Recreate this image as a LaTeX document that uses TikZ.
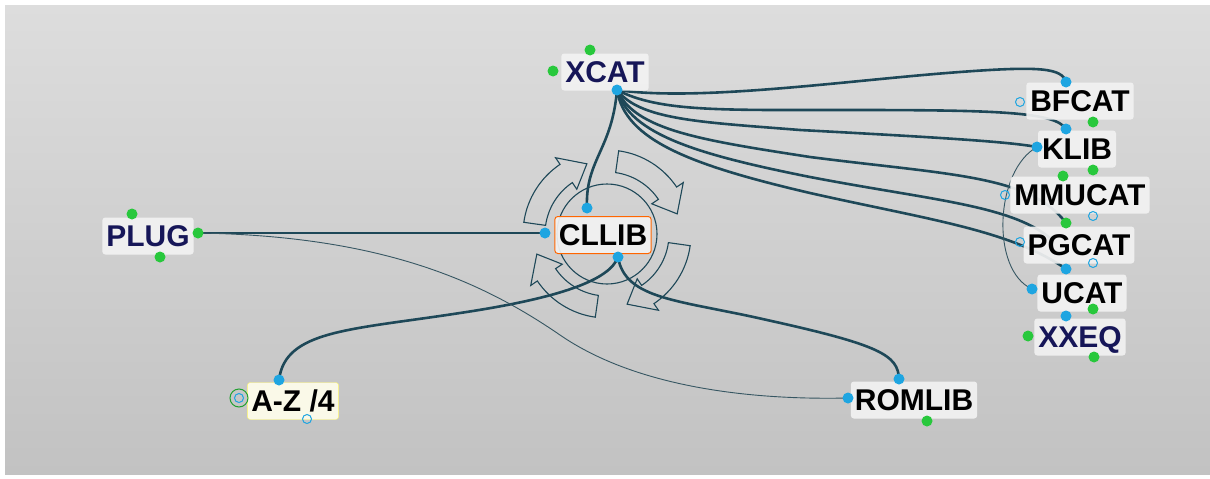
\documentclass[tikz,border=0pt]{standalone}
\usepackage{fontspec}
\setmainfont{Liberation Sans}
\usetikzlibrary{calc}
\definecolor{wirecol}{RGB}{30,72,88}
\definecolor{navytxt}{RGB}{22,22,88}
\definecolor{portblue}{RGB}{30,165,225}
\definecolor{portgreen}{RGB}{40,200,60}
\definecolor{boxfill}{RGB}{242,242,242}
\definecolor{bgtop}{RGB}{221,221,221}
\definecolor{bgbot}{RGB}{194,194,194}
\pgfdeclarelayer{back}
\pgfdeclarelayer{wires}
\pgfsetlayers{back,wires,main}
\tikzset{
  lbl/.style={fill=boxfill, fill opacity=.92, text opacity=1, rounded corners=3pt, inner xsep=4pt, inner ysep=7pt,
    text height=22pt, text depth=1pt, font=\fontsize{30}{30}\selectfont\bfseries},
  navy/.style={text=navytxt},
  bport/.style={circle, fill=portblue, inner sep=0pt, minimum size=11pt},
  gport/.style={circle, fill=portgreen, inner sep=0pt, minimum size=11pt},
  ring/.style={circle, draw=portblue, line width=1pt, inner sep=0pt, minimum size=9pt},
  wire/.style={draw=wirecol, line width=2.6pt},
  thinwire/.style={draw=wirecol!75!gray, line width=0.9pt}
}

\begin{document}
\begin{tikzpicture}[x=1pt,y=-1pt]
\useasboundingbox (0,0) rectangle (1210,479);
\begin{pgfonlayer}{back}
\fill[white] (0,0) rectangle (1210,479);
\shade[top color=bgtop, bottom color=bgbot] (5,5) rectangle (1210,474);
\begin{scope}[shift={(607,234)}, wirecol, line width=1.1pt]
\draw (0,0) circle[radius=50];
\foreach \a in {8,98,188,278}
  \draw (\a:62) -- (\a:84) arc[start angle=\a, end angle=\a+48, radius=84]
     -- ({\a+48}:92) -- ({\a+66}:73) -- ({\a+48}:54) -- ({\a+48}:62)
     arc[start angle=\a+48, end angle=\a, radius=62] -- cycle;
\end{scope}
\end{pgfonlayer}

% modules
\node[lbl,navy] (xcat) at (605,72) {XCAT};
\node[lbl,draw=orange!80!red, line width=1pt] (cllib) at (603,235) {CLLIB};
\node[lbl,navy] (plug) at (148,236) {PLUG};
\node[lbl,draw=yellow!60, fill=yellow!8] (az) at (293,401) {A-Z /4};
\node[lbl] (romlib) at (914,400) {ROMLIB};
\node[lbl] (bfcat) at (1080,101) {BFCAT};
\node[lbl] (klib) at (1077,149) {KLIB};
\node[lbl] (mmucat) at (1080,195) {MMUCAT};
\node[lbl] (pgcat) at (1079,245) {PGCAT};
\node[lbl] (ucat) at (1082,293) {UCAT};
\node[lbl,navy] (xxeq) at (1080,337) {XXEQ};

% ports
\node[gport] (xcat-g1) at (590,50) {};
\node[gport] (xcat-g2) at (553,71) {};
\node[bport] (xcat-b) at (617,90) {};
\node[bport] (cllib-t) at (587,208) {};
\node[bport] (cllib-l) at (545,233) {};
\node[bport] (cllib-b) at (618,257) {};
\node[gport] (plug-t) at (132,214) {};
\node[gport] (plug-r) at (198,233) {};
\node[gport] (plug-b) at (160,257) {};
\node[bport] (az-t) at (279,380) {};
\node[circle, draw=portgreen!80!black, line width=1pt, minimum size=18pt, inner sep=0pt] (az-g) at (239,398) {};
\node[ring] (az-l) at (239,398) {};
\node[ring] (az-b) at (307,419) {};
\node[bport] (rom-t) at (899,379) {};
\node[bport] (rom-l) at (848,398) {};
\node[gport] (rom-b) at (927,421) {};
\node[bport] (bf-t) at (1066,82) {};
\node[ring] (bf-l) at (1020,102) {};
\node[gport] (bf-b) at (1093,122) {};
\node[bport] (kl-t) at (1066,129) {};
\node[bport] (kl-l) at (1037,147) {};
\node[gport] (kl-b1) at (1063,176) {};
\node[gport] (kl-b2) at (1093,170) {};
\node[ring] (mm-l) at (1005,195) {};
\node[ring] (mm-r) at (1093,216) {};
\node[gport] (mm-b) at (1066,223) {};
\node[ring] (pg-l) at (1020,242) {};
\node[ring] (pg-r) at (1093,263) {};
\node[bport] (pg-b) at (1066,269) {};
\node[bport] (uc-l) at (1032,289) {};
\node[gport] (uc-r) at (1093,309) {};
\node[bport] (uc-b) at (1066,316) {};
\node[gport] (xx-l) at (1028,336) {};
\node[gport] (xx-b) at (1094,357) {};
\coordinate (pg-in) at (1050,238);

% links
\begin{pgfonlayer}{wires}
\draw[wire] (xcat-b.center) .. controls (700,102) and (850,80) .. (960,72)
  .. controls (1040,66) and (1062,68) .. (bf-t.center);
\draw[wire] (xcat-b.center) .. controls (660,112) and (720,110) .. (850,110)
  .. controls (1000,110) and (1055,112) .. (kl-t.center);
\draw[wire] (xcat-b.center) .. controls (640,120) and (700,122) .. (800,130)
  .. controls (950,138) and (1010,142) .. (kl-l.center);
\draw[wire] (xcat-b.center) .. controls (635,130) and (700,140) .. (810,157)
  .. controls (950,175) and (1030,175) .. (mm-b.center);
\draw[wire] (xcat-b.center) .. controls (630,135) and (700,155) .. (810,177)
  .. controls (930,200) and (1010,205) .. (pg-in);
\draw[wire] (xcat-b.center) .. controls (625,140) and (690,165) .. (810,193)
  .. controls (930,220) and (1010,230) .. (pg-b.center);
\draw[wire] (xcat-b.center) .. controls (612,150) and (585,160) .. (cllib-t.center);
\draw[wire] (plug-r.center) -- (cllib-l.center);
\draw[wire] (az-t.center) .. controls (285,330) and (350,330) .. (460,313)
  .. controls (560,298) and (610,280) .. (cllib-b.center);
\draw[wire] (cllib-b.center) .. controls (625,300) and (680,300) .. (767,320)
  .. controls (880,345) and (898,355) .. (rom-t.center);
\draw[thinwire] (plug-r.center) .. controls (380,236) and (480,280) .. (560,335)
  .. controls (640,390) and (760,400) .. (rom-l.center);
\draw[thinwire] (kl-l.center) .. controls (995,170) and (990,270) .. (uc-l.center);
\end{pgfonlayer}
\end{tikzpicture}
\end{document}
